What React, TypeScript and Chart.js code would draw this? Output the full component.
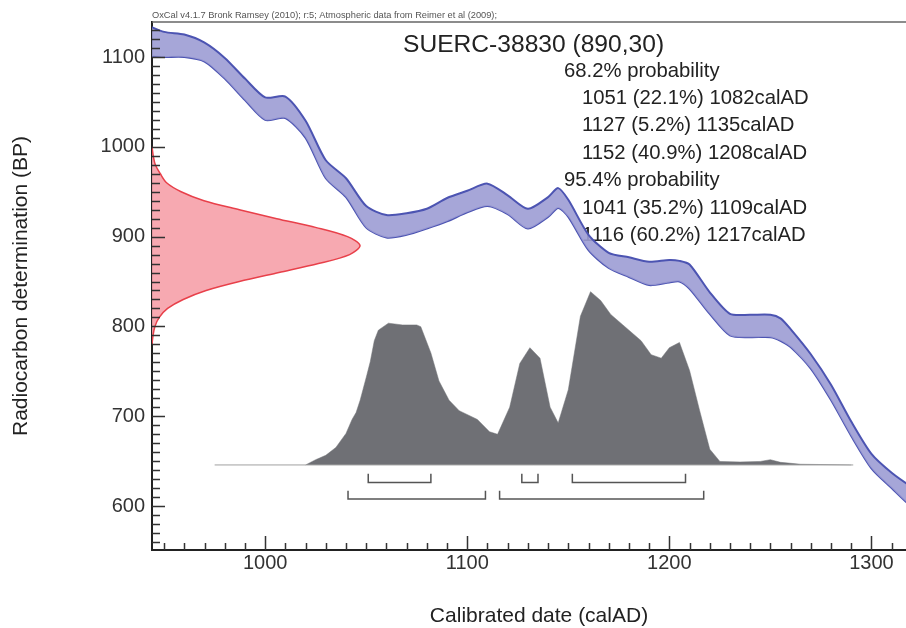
import React, { useEffect, useRef } from 'react';
import { Chart, registerables } from 'chart.js';

Chart.register(...registerables);

// ---- Data ----
const headerText = 'OxCal v4.1.7 Bronk Ramsey (2010); r:5; Atmospheric data from Reimer et al (2009);';
const sampleName = 'SUERC-38830';
const sampleDate = [890, 30];

// Calibration curve band (calAD, BP upper / lower)
const curveYears = [940, 950, 960, 970, 980, 990, 1000, 1010, 1020, 1030, 1040, 1050, 1060, 1070, 1080, 1090, 1100, 1110, 1120, 1130, 1140, 1145, 1150, 1160, 1170, 1180, 1190, 1200, 1205, 1210, 1220, 1230, 1240, 1250, 1255, 1260, 1270, 1280, 1290, 1300, 1310, 1320, 1330];
const curveUpper = [1137, 1128, 1125, 1116, 1099, 1076, 1055, 1056, 1029, 985, 965, 934, 924, 926, 931, 943, 951, 959, 946, 931, 944, 954, 941, 902, 882, 877, 872, 874, 873, 869, 838, 814, 813, 813, 809, 797, 769, 735, 694, 658, 637, 621, 607];
const curveLower = [1101, 1100, 1100, 1095, 1076, 1052, 1030, 1032, 1010, 965, 944, 910, 899, 902, 909, 917, 927, 934, 925, 909, 922, 932, 922, 885, 865, 855, 846, 849, 850, 842, 814, 790, 788, 788, 784, 777, 753, 718, 678, 642, 620, 599, 586];

// Radiocarbon likelihood (BP, relative probability)
const likelihoodBP = [1000, 990, 980, 970, 960, 950, 940, 930, 920, 910, 900, 890, 880, 870, 860, 850, 840, 830, 820, 810, 800, 790, 780];
const likelihoodProb = [0, 0.006, 0.016, 0.04, 0.07, 0.14, 0.25, 0.42, 0.6, 0.79, 0.94, 1.0, 0.95, 0.8, 0.61, 0.42, 0.26, 0.15, 0.075, 0.035, 0.014, 0.005, 0];

// Calibrated (posterior) distribution (calAD, relative probability)
const posteriorYears = [1020, 1025, 1030, 1035, 1040, 1043, 1045, 1047, 1050, 1052, 1054, 1056, 1061, 1068, 1075, 1077, 1082, 1086, 1091, 1096, 1105, 1111, 1115, 1121, 1126, 1131, 1136, 1141, 1145, 1150, 1156, 1161, 1166, 1171, 1177, 1186, 1191, 1196, 1200, 1205, 1210, 1215, 1220, 1225, 1235, 1245, 1250, 1255, 1265, 1290];
const posteriorProb = [0, 0.03, 0.055, 0.1, 0.18, 0.26, 0.3, 0.37, 0.5, 0.59, 0.71, 0.77, 0.81, 0.8, 0.8, 0.79, 0.64, 0.48, 0.37, 0.31, 0.26, 0.19, 0.175, 0.33, 0.58, 0.67, 0.61, 0.33, 0.24, 0.43, 0.85, 0.99, 0.94, 0.86, 0.8, 0.71, 0.63, 0.61, 0.67, 0.7, 0.54, 0.31, 0.09, 0.02, 0.017, 0.02, 0.03, 0.015, 0.004, 0];
const posteriorSpan = [975, 1291];

// Ranges: [from, to, percent]
const range68 = [[1051, 1082, 22.1], [1127, 1135, 5.2], [1152, 1208, 40.9]];
const range95 = [[1041, 1109, 35.2], [1116, 1217, 60.2]];

const xTickLabels = [1000, 1100, 1200, 1300];
const yTickLabels = [600, 700, 800, 900, 1000, 1100];

const FONT = '"Liberation Sans", Arial, Helvetica, sans-serif';

const decorPlugin = {
  id: 'decor',
  beforeDatasetsDraw(chart: any) {
    const ctx = chart.ctx;
    ctx.save();
    ctx.fillStyle = '#222';
    ctx.textBaseline = 'middle';
    ctx.textAlign = 'left';
    ctx.font = `24.6px ${FONT}`;
    ctx.fillText(`${sampleName} (${sampleDate[0]},${sampleDate[1]})`, 403, 45);
    ctx.font = `20.3px ${FONT}`;
    const lines: [string, number][] = [];
    lines.push(['68.2% probability', 564]);
    range68.forEach((r) => lines.push([`${r[0]} (${r[2]}%) ${r[1]}calAD`, 582]));
    lines.push(['95.4% probability', 564]);
    range95.forEach((r) => lines.push([`${r[0]} (${r[2]}%) ${r[1]}calAD`, 582]));
    lines.forEach((l, i) => ctx.fillText(l[0], l[1], 71 + i * 27.4));
    ctx.restore();
  },
  afterDraw(chart: any) {
    const ctx = chart.ctx;
    const a = chart.chartArea;
    const xs = chart.scales.x;
    const ys = chart.scales.y;
    ctx.save();
    // top border
    ctx.strokeStyle = '#666';
    ctx.lineWidth = 1.5;
    ctx.beginPath();
    ctx.moveTo(a.left, a.top);
    ctx.lineTo(a.right, a.top);
    ctx.stroke();
    // inward ticks
    ctx.strokeStyle = '#333';
    ctx.lineWidth = 1.5;
    ctx.beginPath();
    xs.ticks.forEach((t: any) => {
      const px = Math.round(xs.getPixelForValue(t.value)) + 0.5;
      const major = t.value % 100 === 0;
      ctx.moveTo(px, a.bottom);
      ctx.lineTo(px, a.bottom - (major ? 14 : 7));
    });
    ys.ticks.forEach((t: any) => {
      const py = Math.round(ys.getPixelForValue(t.value)) + 0.5;
      const major = t.value % 100 === 0;
      ctx.moveTo(a.left, py);
      ctx.lineTo(a.left + (major ? 13 : 8), py);
    });
    ctx.stroke();
    // header text
    ctx.fillStyle = '#555';
    ctx.textBaseline = 'alphabetic';
    ctx.textAlign = 'left';
    ctx.font = `10px ${FONT}`;
    const w = ctx.measureText(headerText).width;
    const size = (10 * 345) / w;
    ctx.font = `${size.toFixed(2)}px ${FONT}`;
    ctx.fillText(headerText, a.left, 18);
    ctx.restore();
  },
};

export default function App() {
  const ref = useRef<HTMLCanvasElement | null>(null);

  useEffect(() => {
    if (!ref.current) return;

    const bracketDatasets: any[] = [];
    const addBrackets = (ranges: number[][], line: number, top: number) => {
      ranges.forEach((r) => {
        bracketDatasets.push({
          type: 'line',
          data: [
            { x: r[0], y: top },
            { x: r[0], y: line },
            { x: r[1], y: line },
            { x: r[1], y: top },
          ],
          yAxisID: 'yp',
          borderColor: '#555',
          borderWidth: 1.5,
          pointRadius: 0,
          fill: false,
          tension: 0,
        });
      });
    };
    addBrackets(range68, -0.101, -0.05);
    addBrackets(range95, -0.194, -0.147);

    const chart = new Chart(ref.current, {
      type: 'line',
      data: {
        datasets: [
          {
            data: curveYears.map((x, i) => ({ x, y: curveUpper[i] })),
            borderColor: '#4c54b2',
            borderWidth: 2,
            backgroundColor: 'rgba(156,156,212,0.9)',
            fill: '+1',
            pointRadius: 0,
            tension: 0.25,
          },
          {
            data: curveYears.map((x, i) => ({ x, y: curveLower[i] })),
            borderColor: '#4c54b2',
            borderWidth: 2,
            fill: false,
            pointRadius: 0,
            tension: 0.25,
          },
          {
            data: likelihoodBP.map((y, i) => ({ x: likelihoodProb[i], y })),
            xAxisID: 'xp',
            borderColor: '#e8404a',
            borderWidth: 1.5,
            backgroundColor: 'rgba(246,162,170,0.92)',
            fill: 'shape',
            pointRadius: 0,
            tension: 0.3,
          },
          {
            data: posteriorSpan.map((x) => ({ x, y: 0 })),
            yAxisID: 'yp',
            borderColor: '#a0a0a0',
            borderWidth: 1,
            pointRadius: 0,
            fill: false,
          },
          {
            data: posteriorYears.map((x, i) => ({ x, y: posteriorProb[i] })),
            yAxisID: 'yp',
            borderColor: '#6f7075',
            borderWidth: 0.5,
            backgroundColor: '#6f7075',
            fill: 'origin',
            pointRadius: 0,
            tension: 0,
          },
          ...bracketDatasets,
        ],
      } as any,
      options: {
        animation: false,
        responsive: false,
        layout: { padding: { top: 22, left: 0, right: 0, bottom: 0 } },
        plugins: {
          legend: { display: false },
          tooltip: { enabled: false },
        },
        events: [],
        scales: {
          x: {
            type: 'linear',
            position: 'bottom',
            min: 944,
            max: 1327,
            grid: { display: false, drawTicks: false },
            border: { display: true, color: '#222', width: 2 },
            ticks: {
              stepSize: 10,
              includeBounds: false,
              autoSkip: false,
              maxRotation: 0,
              padding: 1,
              color: '#333',
              font: { family: FONT, size: 20 },
              callback: (v: any) => (xTickLabels.includes(Number(v)) ? String(v) : ''),
            },
            title: {
              display: true,
              text: 'Calibrated date (calAD)',
              color: '#222',
              font: { family: FONT, size: 21, lineHeight: 1.15 },
              padding: { top: 0, bottom: 0 },
            },
            afterFit: (s: any) => {
              s.height = 78;
              s.paddingLeft = 0;
              s.paddingRight = 0;
            },
          },
          y: {
            type: 'linear',
            position: 'left',
            min: 551,
            max: 1139,
            grid: { display: false, drawTicks: false },
            border: { display: true, color: '#222', width: 2 },
            ticks: {
              stepSize: 10,
              includeBounds: false,
              autoSkip: false,
              padding: 7,
              color: '#333',
              font: { family: FONT, size: 20 },
              callback: (v: any) => (yTickLabels.includes(Number(v)) ? String(v) : ''),
            },
            title: {
              display: true,
              text: 'Radiocarbon determination (BP)',
              color: '#222',
              font: { family: FONT, size: 21 },
              padding: { top: 9, bottom: 0 },
            },
            afterFit: (s: any) => {
              s.width = 152;
              s.paddingTop = 0;
              s.paddingBottom = 0;
            },
          },
          xp: { type: 'linear', display: false, min: 0, max: 3.721 },
          yp: { type: 'linear', display: false, min: -0.486, max: 2.531 },
        },
      } as any,
      plugins: [decorPlugin],
    });
    return () => chart.destroy();
  }, []);

  return (
    <div style={{ position: 'absolute', left: 0, top: 0, width: 906, height: 628, overflow: 'hidden', background: '#fff' }}>
      <canvas ref={ref} width={926} height={628} style={{ display: 'block' }} />
    </div>
  );
}
